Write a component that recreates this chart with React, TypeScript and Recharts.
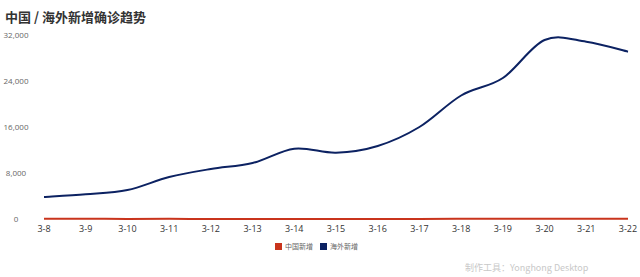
import React from 'react';
import { LineChart, Line, XAxis, YAxis } from 'recharts';

const dates = ['3-8', '3-9', '3-10', '3-11', '3-12', '3-13', '3-14', '3-15', '3-16', '3-17', '3-18', '3-19', '3-20', '3-21', '3-22'];
const chinaNew = [44, 40, 19, 24, 15, 11, 20, 16, 21, 13, 34, 39, 41, 46, 39];
const overseasNew = [3830, 4300, 5040, 7300, 8700, 9740, 12230, 11530, 12700, 16000, 21480, 24520, 31130, 30830, 29100];
const yTicks = [0, 8000, 16000, 24000, 32000];

const seriesNames = { china: '中国新增', overseas: '海外新增' };
const colors = { china: '#c9341c', overseas: '#0c2262' };

const data = dates.map((d, i) => ({ date: d, china: chinaNew[i], overseas: overseasNew[i] }));

// Catmull-Rom style (cardinal, tension 0) curve factory
const smoothCurve: any = (context: any) => {
  let pts: number[][] = [];
  return {
    areaStart() {},
    areaEnd() {},
    lineStart() {
      pts = [];
    },
    point(x: number, y: number) {
      pts.push([+x, +y]);
    },
    lineEnd() {
      const n = pts.length;
      if (!n) return;
      context.moveTo(pts[0][0], pts[0][1]);
      for (let i = 0; i < n - 1; i++) {
        const p0 = pts[Math.max(i - 1, 0)];
        const p1 = pts[i];
        const p2 = pts[i + 1];
        const p3 = pts[Math.min(i + 2, n - 1)];
        context.bezierCurveTo(
          p1[0] + (p2[0] - p0[0]) / 6,
          p1[1] + (p2[1] - p0[1]) / 6,
          p2[0] - (p3[0] - p1[0]) / 6,
          p2[1] - (p3[1] - p1[1]) / 6,
          p2[0],
          p2[1]
        );
      }
    },
  };
};

const font = '"Open Sans", "Noto Sans CJK SC", sans-serif';

const YTick = (props: any) => {
  const { y, payload } = props;
  return (
    <text x={16} y={y} dy="0.35em" textAnchor="middle" fontSize={8} fill="#666" fontFamily={font}>
      {Number(payload.value).toLocaleString('en-US')}
    </text>
  );
};

const XTick = (props: any) => {
  const { x, payload } = props;
  return (
    <text x={x} y={229} dy="0.35em" textAnchor="middle" fontSize={9} fill="#333" fontFamily={font}>
      {payload.value}
    </text>
  );
};

const LegendBlock = () => (
  <div style={{ position: 'absolute', left: 0, top: 241, width: 640, display: 'flex', justifyContent: 'center', alignItems: 'center', fontFamily: '"Noto Sans CJK SC", sans-serif', fontSize: 7, color: '#666', lineHeight: '10px' }}>
    {(['china', 'overseas'] as const).map((k) => (
      <div key={k} style={{ display: 'flex', alignItems: 'center', marginRight: 7 }}>
        <span style={{ display: 'inline-block', width: 7, height: 7, background: colors[k], marginRight: 3 }} />
        <span>{seriesNames[k]}</span>
      </div>
    ))}
  </div>
);

export default function App() {
  return (
    <div style={{ position: 'absolute', left: 0, top: 0, width: 640, height: 277, background: '#fff' }}>
      <div style={{ position: 'absolute', left: 5, top: 8, fontSize: 13, fontWeight: 'bold', color: '#333', fontFamily: '"Noto Sans CJK SC", sans-serif', lineHeight: '18px', whiteSpace: 'nowrap' }}>
        中国 / 海外新增确诊趋势
      </div>
      <LineChart width={640} height={277} data={data} margin={{ top: 35, right: 12, bottom: 28, left: 0 }}>
        <XAxis dataKey="date" height={30} axisLine={false} tickLine={false} tick={<XTick />} interval={0} padding={{ left: 0, right: 0 }} />
        <YAxis domain={[0, 32000]} ticks={yTicks} width={44} axisLine={false} tickLine={false} tick={<YTick />} />
        <Line dataKey="overseas" name={seriesNames.overseas} type={smoothCurve} stroke={colors.overseas} strokeWidth={2} dot={false} isAnimationActive={false} />
        <Line dataKey="china" name={seriesNames.china} type={smoothCurve} stroke={colors.china} strokeWidth={2} dot={false} isAnimationActive={false} />
      </LineChart>
      <LegendBlock />
      <div style={{ position: 'absolute', left: 465, top: 262, fontSize: 9, color: '#c8c8c8', fontFamily: '"Noto Sans CJK SC", sans-serif', lineHeight: '12px', whiteSpace: 'nowrap' }}>
        制作工具：Yonghong Desktop
      </div>
    </div>
  );
}
